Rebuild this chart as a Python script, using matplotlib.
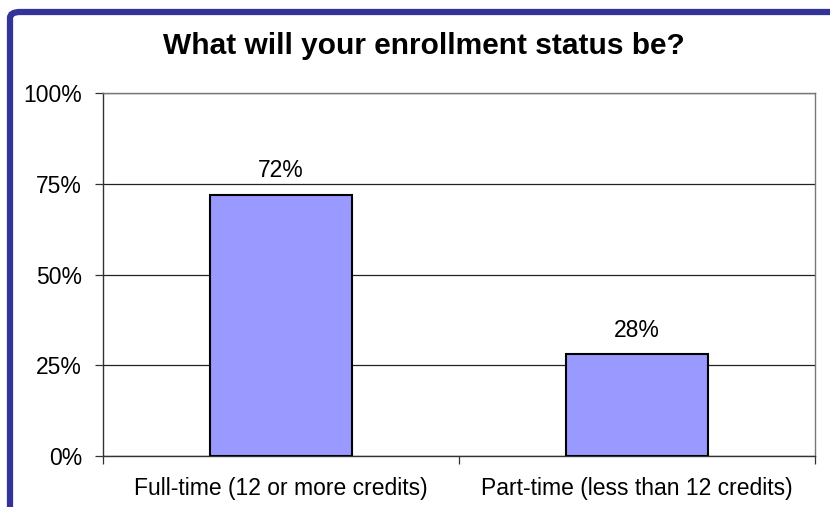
import matplotlib
matplotlib.use("Agg")
import matplotlib.pyplot as plt
from matplotlib.patches import FancyBboxPatch
from matplotlib.ticker import FixedLocator, FuncFormatter

plt.rcParams["font.family"] = ["Liberation Sans", "DejaVu Sans"]

# enrollment survey answers
categories = ["Full-time (12 or more credits)", "Part-time (less than 12 credits)"]
shares = [72, 28]
y_ticks = [0, 25, 50, 75, 100]

fig = plt.figure(figsize=(8.3, 5.07), dpi=100)

# navy frame around the slide, rounded top-left corner
W, H = 830, 507
frame = FancyBboxPatch(
    (10 / W, -20 / H), (W + 40) / W, (H + 8) / H,
    boxstyle="round,pad=0,rounding_size=0.012",
    transform=fig.transFigure, facecolor="none",
    edgecolor="#333399", linewidth=4.5, clip_on=False,
)
fig.patches.append(frame)

ax = fig.add_axes([103 / W, 1 - 456 / H, (815 - 103) / W, (456 - 93) / H])

x = range(len(categories))
ax.bar(x, shares, width=0.4, color="#9999FF", edgecolor="black", linewidth=1.5, zorder=3)
for xi, v in zip(x, shares):
    ax.text(xi, v + 3.5, f"{v}%", ha="center", va="bottom", fontsize=16.5, color="black")

ax.set_xlim(-0.5, len(categories) - 0.5)
ax.set_ylim(0, 100)
ax.set_yticks(y_ticks)
ax.yaxis.set_major_formatter(FuncFormatter(lambda v, _: f"{v:.0f}%"))
ax.grid(axis="y", color="#222222", linewidth=0.9, zorder=0)

ax.set_xticks(list(x))
ax.set_xticklabels(categories, fontsize=16.5)
ax.tick_params(axis="x", which="major", length=0, pad=15)
ax.xaxis.set_minor_locator(FixedLocator([-0.5, 0.5, 1.5]))
ax.tick_params(axis="x", which="minor", length=6, width=0.9, color="#333333")
ax.tick_params(axis="y", length=6, width=0.9, color="#333333", labelsize=16.5, pad=9)

for side in ["top", "right"]:
    ax.spines[side].set_color("#777777")
    ax.spines[side].set_linewidth(1.0)
for side in ["left", "bottom"]:
    ax.spines[side].set_color("#333333")
    ax.spines[side].set_linewidth(1.0)

fig.text(424 / W, 1 - 46 / H, "What will your enrollment status be?",
         ha="center", va="center", fontsize=21.5, fontweight="bold")

fig.savefig("out.png", dpi=100)
